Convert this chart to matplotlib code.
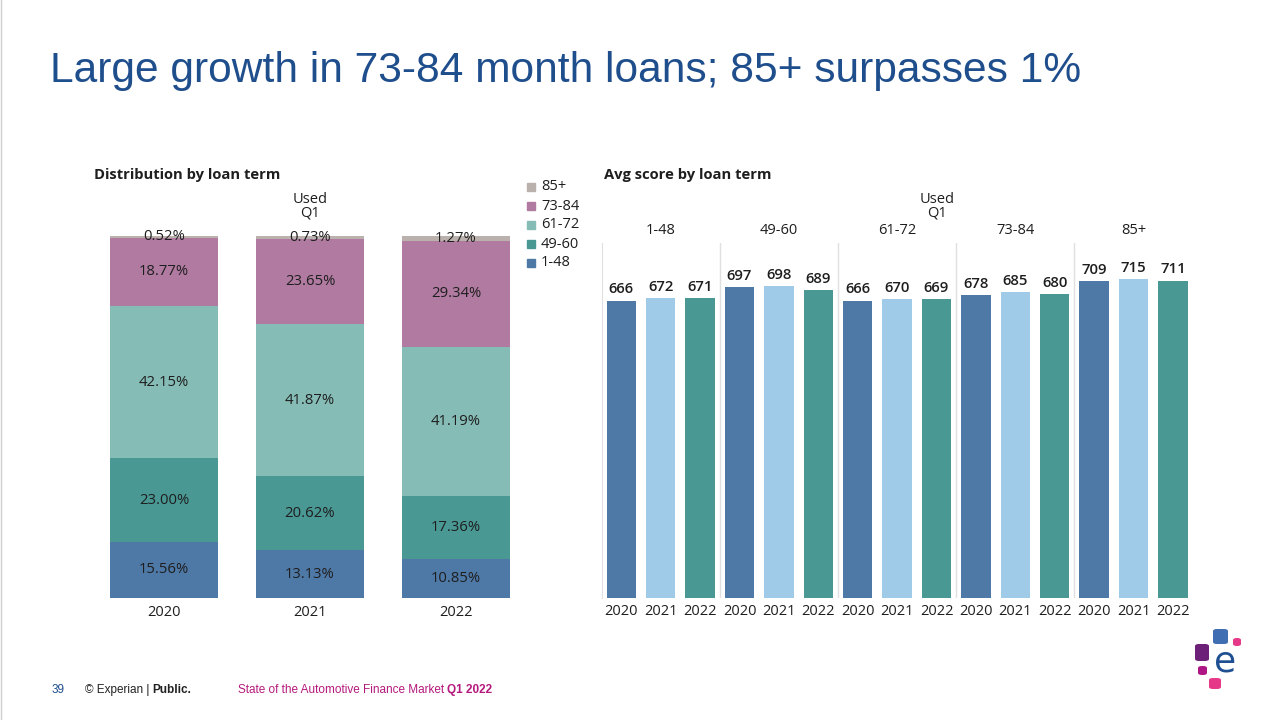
import matplotlib
matplotlib.use("Agg")
import matplotlib.pyplot as plt
from matplotlib.transforms import blended_transform_factory
from matplotlib.patches import FancyBboxPatch
from matplotlib.lines import Line2D
import numpy as np

# ---------------- data ----------------
years = ["2020", "2021", "2022"]
terms = ["1-48", "49-60", "61-72", "73-84", "85+"]
dist_1_48 = [15.56, 13.13, 10.85]
dist_49_60 = [23.00, 20.62, 17.36]
dist_61_72 = [42.15, 41.87, 41.19]
dist_73_84 = [18.77, 23.65, 29.34]
dist_85p = [0.52, 0.73, 1.27]

score_1_48 = [666, 672, 671]
score_49_60 = [697, 698, 689]
score_61_72 = [666, 670, 669]
score_73_84 = [678, 685, 680]
score_85p = [709, 715, 711]

term_colors = ["#4E79A7", "#499894", "#86BCB6", "#B07AA1", "#BAB0AC"]
year_colors = ["#4E79A7", "#A0CBE8", "#499894"]

W, H = 1280, 720
FONT = "Open Sans"
TXT = "#1e1e1e"
FS = 10.7

fig = plt.figure(figsize=(12.8, 7.2), dpi=100)
fig.patch.set_facecolor("white")


def fx(x):
    return x / W


def fy(y):
    return 1 - y / H


# left border line
fig.add_artist(Line2D([fx(1), fx(1)], [0, 1], color="#d0d0d0", lw=1))

# title
fig.text(fx(50), fy(71), "Large growth in 73-84 month loans; 85+ surpasses 1%",
         fontsize=30.6, color="#1F4E8C", family="Liberation Sans", va="center", ha="left")

# ---------------- left chart ----------------
ax1 = fig.add_axes([fx(91), fy(598), (529 - 91) / W, (598 - 236) / H])
x = np.arange(len(years))
series = [dist_1_48, dist_49_60, dist_61_72, dist_73_84, dist_85p]
bottom = np.zeros(len(years))
for vals, col in zip(series, term_colors):
    vals = np.array(vals)
    bars = ax1.bar(x, vals, bottom=bottom, width=0.74, color=col, linewidth=0)
    ax1.bar_label(bars, labels=[f"{v:.2f}%" for v in vals], label_type="center",
                  fontsize=FS, color=TXT, family=FONT)
    bottom += vals
ax1.set_xlim(-0.5, 2.5)
ax1.set_ylim(0, 100)
ax1.set_xticks(x, years)
ax1.tick_params(axis="x", length=0, pad=5, labelsize=FS - 0.2, labelcolor=TXT)
for lab in ax1.get_xticklabels():
    lab.set_family(FONT)
ax1.set_yticks([])
for s in ax1.spines.values():
    s.set_visible(False)

fig.text(fx(94), fy(175), "Distribution by loan term", fontsize=10.6, fontweight="bold",
         family=FONT, color=TXT, va="center", ha="left")
fig.text(fx(310), fy(206), "Used\nQ1", fontsize=FS - 0.2, family=FONT, color=TXT,
         va="center", ha="center", linespacing=0.9)

# legend
leg_y0 = 187
for i, (t, c) in enumerate(zip(terms[::-1], term_colors[::-1])):
    yy = leg_y0 + i * 19
    fig.add_artist(plt.Rectangle((fx(527), fy(yy + 4)), 8 / W, 8 / H, color=c,
                                 transform=fig.transFigure))
    fig.text(fx(541), fy(yy), t, fontsize=FS - 0.2, family=FONT, color=TXT,
             va="center", ha="left")

# ---------------- right chart ----------------
ax2 = fig.add_axes([fx(601.6), fy(598), 591 / W, (598 - 243) / H])
score_groups = [score_1_48, score_49_60, score_61_72, score_73_84, score_85p]
pos = 0
for g, vals in enumerate(score_groups):
    xs = np.arange(pos, pos + len(vals))
    bars = ax2.bar(xs, vals, width=0.745, color=year_colors, linewidth=0)
    ax2.bar_label(bars, labels=[str(v) for v in vals], padding=3, fontsize=FS,
                  fontweight="semibold", family=FONT, color=TXT)
    pos += len(vals)
ax2.set_xlim(-0.5, pos - 0.5)
ax2.set_ylim(0, 795)
ax2.set_xticks(np.arange(pos), years * len(score_groups))
ax2.tick_params(axis="x", length=0, pad=4, labelsize=FS - 0.2, labelcolor=TXT)
for lab in ax2.get_xticklabels():
    lab.set_family(FONT)
ax2.set_yticks([])
for s in ax2.spines.values():
    s.set_visible(False)
ax2.spines["left"].set_visible(True)
ax2.spines["left"].set_color("#e0e0e0")
for b in [2.5, 5.5, 8.5, 11.5]:
    ax2.axvline(b, color="#e0e0e0", lw=1)

tr = blended_transform_factory(ax2.transData, ax2.transAxes)
for g, t in enumerate(terms):
    ax2.text(g * 3 + 1, 1 + 12 / 355, t, transform=tr, ha="center", va="center",
             fontsize=FS - 0.2, family=FONT, color=TXT)

fig.text(fx(604), fy(175), "Avg score by loan term", fontsize=10.6, fontweight="bold",
         family=FONT, color=TXT, va="center", ha="left")
fig.text(fx(937), fy(206), "Used\nQ1", fontsize=FS - 0.2, family=FONT, color=TXT,
         va="center", ha="center", linespacing=0.9)

# ---------------- footer ----------------
FF = "Liberation Sans"
renderer = fig.canvas.get_renderer()


def seq_text(x0, y0, parts, fs):
    xpos = x0
    for s, col, wt in parts:
        t = fig.text(fx(xpos), fy(y0), s, fontsize=fs, family=FF, color=col,
                     fontweight=wt, va="center", ha="left")
        bb = t.get_window_extent(renderer=renderer)
        xpos += bb.width


fig.text(fx(52), fy(690), "39", fontsize=8.5, family=FF, color="#1F4E8C", va="center")
seq_text(85, 690, [("© Experian | ", "#222222", "normal"),
                   ("Public.", "#222222", "bold")], 8.5)
seq_text(238, 690, [("State of the Automotive Finance Market ", "#B5197C", "normal"),
                    ("Q1 2022", "#B5197C", "bold")], 8.5)

# logo
def rbox(x0, y0, w, h, c):
    p = FancyBboxPatch((fx(x0), fy(y0 + h)), w / W, h / H,
                       boxstyle="round,pad=0,rounding_size=0.003",
                       transform=fig.transFigure, facecolor=c, edgecolor="none")
    fig.add_artist(p)

rbox(1213, 629, 15, 15, "#406EB3")
rbox(1233, 638, 8, 8, "#E63888")
rbox(1195, 644, 14, 17, "#6D2077")
rbox(1198, 666, 9, 9, "#AF1685")
rbox(1209, 678, 12, 11, "#E63888")
fig.text(fx(1225), fy(661), "e", fontsize=26, family="DejaVu Sans", color="#1D4F91",
         ha="center", va="center")

fig.savefig("out.png", dpi=100, facecolor="white")
